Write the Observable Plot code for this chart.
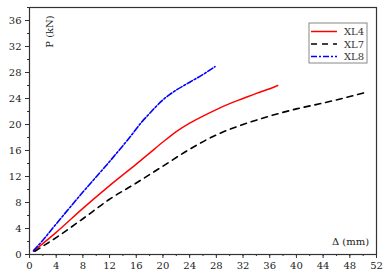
<!DOCTYPE html>
<html>
<head>
<meta charset="utf-8">
<script src="https://cdn.jsdelivr.net/npm/d3@7"></script>
<script src="https://cdn.jsdelivr.net/npm/@observablehq/plot@0.6"></script>
<style>
  html, body { margin: 0; padding: 0; background: #fff; }
  #chart svg { display: block; }
</style>
</head>
<body>
<div id="chart"></div>
<script>
// Series: displacement Δ (mm) and load P (kN)
const seriesNames = ["XL4", "XL7", "XL8"];
const seriesColors = ["#ff0000", "#000000", "#0000ff"];
const seriesDash = ["none", "6,5", "6,2,2,2"];

const xl4X = [0.6, 4, 8, 12, 16, 18, 20, 22, 24, 26, 28, 30, 32, 34, 36, 37.2];
const xl4P = [0.5, 3.4, 7.1, 10.6, 13.9, 15.6, 17.3, 18.9, 20.2, 21.3, 22.3, 23.2, 24.0, 24.8, 25.5, 26.0];

const xl7X = [0.8, 4, 8, 12, 16, 20, 24, 28, 32, 36, 40, 44, 48, 50.2];
const xl7P = [0.5, 2.6, 5.5, 8.5, 11.0, 13.6, 16.2, 18.4, 20.0, 21.3, 22.4, 23.3, 24.3, 24.9];

const xl8X = [0.6, 2, 4, 8, 12, 15, 17, 18, 19, 20, 21, 22, 24, 26, 27.8];
const xl8P = [0.6, 2.2, 4.7, 9.6, 14.3, 18.0, 20.6, 21.7, 22.8, 23.8, 24.6, 25.3, 26.5, 27.7, 28.9];

const xMajor = d3.range(0, 53, 4);
const xMinor = d3.range(0, 53, 2);
const yMajor = d3.range(0, 37, 4);
const yMinor = d3.range(0, 39, 2);

const xLabel = "Δ (mm)";
const yLabel = "P (kN)";

const seriesX = [xl4X, xl7X, xl8X];
const seriesP = [xl4P, xl7P, xl8P];
const rows = (i) => seriesX[i].map((x, j) => ({x, p: seriesP[i][j], s: seriesNames[i]}));

const font = "DejaVu Serif, Liberation Serif, serif";

const lineMarks = seriesNames.map((n, i) =>
  Plot.line(rows(i), {x: "x", y: "p", stroke: seriesColors[i], strokeWidth: i === 0 ? 1.4 : 1.6,
    strokeDasharray: seriesDash[i], curve: "monotone-x"})
);

const chart = Plot.plot({
  width: 386,
  height: 275,
  marginLeft: 29,
  marginRight: 10,
  marginTop: 7,
  marginBottom: 21,
  style: {fontFamily: font, fontSize: "10px", color: "#222", background: "#fff"},
  x: {domain: [0, 52]},
  y: {domain: [0, 38]},
  marks: [
    Plot.axisX({ticks: xMinor, tickSize: 2, text: null, label: null, stroke: "#333"}),
    Plot.axisX({ticks: xMajor, tickSize: 4, tickPadding: 3, label: null, stroke: "#333", fill: "#222"}),
    Plot.axisY({ticks: yMinor, tickSize: 2, text: null, label: null, stroke: "#333"}),
    Plot.axisY({ticks: yMajor, tickSize: 4, tickPadding: 4, label: null, stroke: "#333", fill: "#222"}),
    ...lineMarks,
    Plot.frame({stroke: "#333", strokeWidth: 1.2}),
    Plot.text([yLabel], {frameAnchor: "top-left", dx: 20, dy: 24, rotate: -90, fontSize: 10, fill: "#222",
      textAnchor: "middle", lineAnchor: "middle"}),
    Plot.text([xLabel], {frameAnchor: "bottom-right", dx: -26, dy: -13, fontSize: 10, fill: "#222",
      textAnchor: "middle", lineAnchor: "middle"})
  ]
});

document.getElementById("chart").appendChild(chart);

// Legend box inside the plot area (top-right)
const svg = d3.select(chart);
const lg = svg.append("g").attr("transform", "translate(309,23)");
lg.append("rect").attr("x", 0).attr("y", 0).attr("width", 58).attr("height", 40)
  .attr("fill", "#fff").attr("stroke", "#888").attr("stroke-width", 1);
seriesNames.forEach((n, i) => {
  const yy = 8.5 + i * 12.5;
  lg.append("line").attr("x1", 2).attr("x2", 28).attr("y1", yy).attr("y2", yy)
    .attr("stroke", seriesColors[i]).attr("stroke-width", 1.5)
    .attr("stroke-dasharray", seriesDash[i] === "none" ? null : seriesDash[i]);
  lg.append("text").attr("x", 35).attr("y", yy).attr("dy", "0.35em")
    .attr("text-anchor", "start")
    .attr("font-family", font).attr("font-size", 10).attr("fill", "#333").text(n);
});
</script>
</body>
</html>
